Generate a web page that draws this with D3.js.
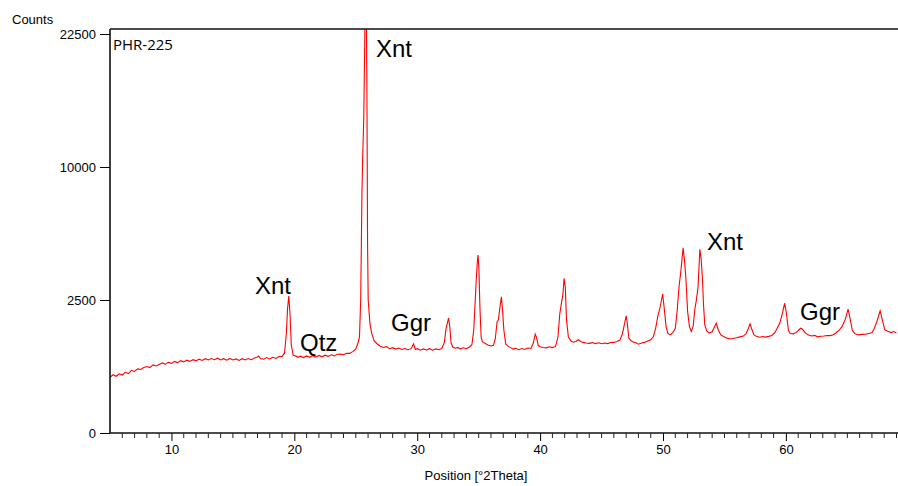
<!DOCTYPE html>
<html><head><meta charset="utf-8">
<script src="https://cdn.jsdelivr.net/npm/d3@7"></script>
<style>body{margin:0;background:#fff}svg{display:block}</style>
</head><body>
<svg id="c" width="898" height="486"></svg>
<script>
const angles = [5.0,5.25,5.5,5.75,6.0,6.25,6.5,6.75,7.0,7.25,7.5,7.75,8.0,8.25,8.5,8.75,9.0,9.25,9.5,9.75,10.0,10.25,10.5,10.75,11.0,11.25,11.5,11.75,12.0,12.25,12.5,12.75,13.0,13.25,13.5,13.75,14.0,14.25,14.5,14.75,15.0,15.25,15.5,15.75,16.0,16.25,16.5,16.75,17.0,17.1,17.25,17.5,17.75,18.0,18.25,18.5,18.75,19.0,19.2,19.35,19.45,19.55,19.65,19.75,19.9,20.1,20.3,20.5,20.75,21.0,21.25,21.5,21.75,22.0,22.25,22.5,22.75,23.0,23.25,23.5,23.75,24.0,24.25,24.5,24.75,25.0,25.18,25.3,25.4,25.5,25.56,25.65,25.75,25.83,25.9,25.96,26.01,26.15,26.29,26.5,26.75,26.96,27.25,27.5,27.75,28.0,28.25,28.5,28.75,29.0,29.25,29.5,29.7,29.85,30.0,30.25,30.5,30.75,31.0,31.25,31.5,31.75,32.0,32.2,32.35,32.45,32.55,32.65,32.75,32.9,33.1,33.3,33.5,33.75,34.0,34.25,34.45,34.6,34.7,34.8,34.9,34.95,35.02,35.1,35.2,35.3,35.5,35.75,36.0,36.2,36.35,36.5,36.6,36.75,36.85,36.95,37.05,37.2,37.4,37.6,37.8,38.0,38.25,38.5,38.75,39.0,39.25,39.45,39.6,39.7,39.85,40.0,40.25,40.5,40.75,41.0,41.25,41.45,41.6,41.72,41.85,41.95,42.05,42.15,42.3,42.5,42.7,42.9,43.1,43.3,43.5,43.75,44.0,44.25,44.5,44.75,45.0,45.25,45.5,45.75,46.0,46.25,46.5,46.7,46.85,47.0,47.1,47.22,47.4,47.6,47.8,48.0,48.25,48.5,48.75,49.0,49.2,49.4,49.6,49.75,49.97,50.1,50.25,50.4,50.6,50.8,51.0,51.15,51.3,51.45,51.55,51.64,51.75,51.86,52.0,52.15,52.3,52.45,52.6,52.7,52.85,53.0,53.1,53.2,53.3,53.4,53.55,53.75,54.0,54.2,54.33,54.5,54.7,55.0,55.25,55.5,55.75,56.0,56.25,56.5,56.75,56.95,57.08,57.2,57.4,57.6,57.85,58.1,58.35,58.6,58.85,59.1,59.3,59.5,59.7,59.9,60.05,60.2,60.35,60.6,60.85,61.05,61.2,61.35,61.6,61.85,62.1,62.35,62.6,62.85,63.1,63.35,63.6,63.85,64.1,64.35,64.6,64.85,65.06,65.2,65.4,65.6,65.9,66.2,66.5,66.8,67.0,67.2,67.4,67.67,67.85,68.05,68.3,68.55,68.8,69.0];
const counts = [440,480,455,495,475,520,500,555,535,580,570,605,625,605,655,635,665,695,670,705,685,725,700,740,715,750,725,760,735,770,745,780,755,785,760,790,755,780,750,785,755,775,745,780,755,785,760,795,815,835,785,770,805,775,810,785,825,830,900,1400,2200,2650,2000,1100,860,840,810,835,805,840,810,845,815,850,820,855,830,865,840,875,880,865,900,895,935,1000,1145,1300,2500,8000,10700,14000,24000,30000,18000,5000,2500,1700,1410,1200,1120,1070,1035,1055,1005,1030,995,1020,985,1010,980,1005,1120,985,1005,970,1000,975,1005,970,1000,980,1010,1150,1550,1700,1870,1600,1150,1040,1015,1035,1000,1025,1005,1045,1100,1500,2300,3300,4200,4480,3800,2250,1300,1180,1140,1095,1070,1085,1250,1750,1800,2300,2620,2100,1500,1120,1060,1030,995,1015,980,1010,985,1020,1010,1150,1380,1300,1080,1050,1035,1025,1050,1030,1060,1300,2000,2350,2700,3380,3000,1800,1300,1200,1165,1185,1230,1185,1160,1145,1135,1155,1130,1150,1125,1145,1130,1155,1160,1185,1220,1400,1650,1940,1700,1270,1200,1165,1150,1115,1145,1160,1195,1230,1300,1550,1970,2200,2730,2200,1600,1400,1360,1420,1550,2100,3000,3700,4300,4850,4200,3400,2100,1600,1460,1600,2200,2450,3000,4770,4300,3450,2300,1650,1480,1410,1450,1600,1700,1500,1360,1300,1265,1250,1270,1280,1305,1320,1385,1550,1680,1550,1360,1320,1295,1315,1300,1320,1345,1420,1560,1700,2000,2380,2000,1500,1400,1390,1430,1500,1550,1520,1410,1360,1330,1345,1305,1325,1330,1345,1340,1365,1420,1500,1620,1850,2170,1900,1500,1400,1360,1375,1380,1405,1420,1550,1750,2110,1800,1500,1460,1425,1455,1410];
const xTicks = [10,20,30,40,50,60];
const yTicks = [0,2500,10000,22500];
const labels = ["Xnt","Qtz","Xnt","Ggr","Xnt","Ggr"];
const labelPos = [[255,294],[300,351],[376,57],[391,331],[707,250],[800,320]];

const svg = d3.select("#c");
const x = d3.scaleLinear().domain([5,69]).range([110,896.5]);
const y = d3.scaleSqrt().domain([0,22500]).range([433,34]);
const plotTop = 29, plotRight = 898;
const font = "'Liberation Sans', Arial, sans-serif";

svg.append("defs").append("clipPath").attr("id","clip")
  .append("rect").attr("x",110).attr("y",plotTop).attr("width",plotRight-110).attr("height",433-plotTop);

const n = Math.min(angles.length, counts.length);
const data = d3.range(n).map(i=>[angles[i],counts[i]]);
svg.append("path").datum(data)
  .attr("clip-path","url(#clip)")
  .attr("fill","none").attr("stroke","#ff0000").attr("stroke-width",1.1)
  .attr("d", d3.line().x(d=>x(d[0])).y(d=>y(d[1])));

// frame
svg.append("line").attr("x1",110).attr("x2",plotRight).attr("y1",plotTop).attr("y2",plotTop).attr("stroke","#111").attr("stroke-width",1.6);
svg.append("line").attr("x1",110).attr("x2",110).attr("y1",plotTop).attr("y2",433).attr("stroke","#111").attr("stroke-width",1.6);

// x axis
const xa = svg.append("g").attr("transform","translate(0,433)")
  .call(d3.axisBottom(x).tickValues(xTicks).tickSize(8).tickPadding(4).tickFormat(d3.format("d")));
xa.select(".domain").remove();
xa.append("line").attr("x1",110).attr("x2",plotRight).attr("stroke","#111").attr("stroke-width",1.6);
xa.selectAll("text").attr("font-family",font).attr("font-size",13).attr("fill","#000");
const minor = d3.range(6,70).filter(v=>v%10!==0);
xa.selectAll(".minor").data(minor).enter().append("line").attr("class","minor")
  .attr("x1",d=>x(d)).attr("x2",d=>x(d)).attr("y1",0).attr("y2",5).attr("stroke","#222");

// y axis
const ya = svg.append("g").attr("transform","translate(110,0)")
  .call(d3.axisLeft(y).tickValues(yTicks).tickSize(10).tickPadding(4).tickFormat(d3.format("d")));
ya.select(".domain").remove();
ya.selectAll("text").attr("font-family",font).attr("font-size",13).attr("fill","#000");

svg.append("text").attr("x",12).attr("y",24).attr("font-family",font).attr("font-size",13).text("Counts");
svg.append("text").attr("x",476).attr("y",480).attr("text-anchor","middle").attr("font-family",font).attr("font-size",13).text("Position [°2Theta]");
svg.append("text").attr("x",113).attr("y",50).attr("font-family","'Open Sans', sans-serif").attr("font-size",15).text("PHR-225");

svg.selectAll(".lab").data(labels).enter().append("text").attr("class","lab")
  .attr("x",(d,i)=>labelPos[i][0]).attr("y",(d,i)=>labelPos[i][1])
  .attr("font-family",font).attr("font-size",24).attr("fill","#000").text(d=>d);
</script>
</body></html>
